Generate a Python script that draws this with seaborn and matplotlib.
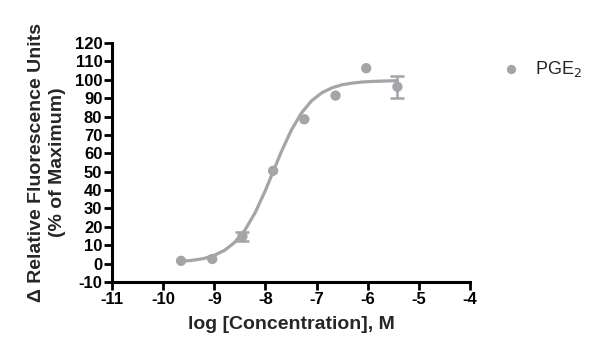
import matplotlib

matplotlib.use("Agg")

import matplotlib.pyplot as plt
import numpy as np
import pandas as pd
import seaborn as sns

# measured points (log M, % of max) with SEM
log_conc = [-9.65, -9.04, -8.45, -7.85, -7.24, -6.63, -6.03, -5.42]
response = [1.5, 2.5, 14.8, 50.5, 78.5, 91.4, 106.3, 96.2]
sem = [0.0, 0.0, 2.5, 0.0, 0.0, 0.0, 0.0, 6.0]

# fitted curve
curve_x = [-9.65, -9.4, -9.2, -9.0, -8.8, -8.6, -8.4, -8.2, -8.0, -7.85, -7.7,
           -7.5, -7.3, -7.1, -6.9, -6.7, -6.5, -6.3, -6.1, -5.9, -5.7, -5.42]
curve_y = [1.2, 1.9, 2.8, 4.5, 7.2, 11.6, 18.3, 27.8, 39.9, 50.0, 60.2,
           72.3, 81.8, 88.5, 92.9, 95.6, 97.3, 98.2, 98.8, 99.1, 99.3, 99.5]

x_ticks = [-11, -10, -9, -8, -7, -6, -5, -4]
y_ticks = list(range(-10, 121, 10))

GREY = "#a4a4a9"

sns.set_style("ticks")
plt.rcParams["font.family"] = ["Liberation Sans", "DejaVu Sans"]

fig = plt.figure(figsize=(6.0, 3.59), dpi=100)
ax = fig.add_axes([0.1867, 0.2145, 0.5967, 0.6657])

curve = pd.DataFrame({"x": curve_x, "y": curve_y})
points = pd.DataFrame({"x": log_conc, "y": response, "sem": sem})

sns.lineplot(data=curve, x="x", y="y", ax=ax, color=GREY, linewidth=2.3, zorder=2)

err = points[points["sem"] > 0]
ax.errorbar(err["x"], err["y"], yerr=err["sem"], fmt="none", ecolor=GREY,
            elinewidth=1.8, capsize=5, capthick=1.8, zorder=3)

sns.scatterplot(data=points, x="x", y="y", ax=ax, color=GREY, s=55,
                edgecolor="none", zorder=4, label="PGE$_2$")

ax.set_xlim(-11, -4)
ax.set_ylim(-10, 120)
ax.set_xticks(x_ticks)
ax.set_yticks(y_ticks)
ax.set_xticklabels([str(t) for t in x_ticks], fontweight="bold", fontsize=12)
ax.set_yticklabels([str(t) for t in y_ticks], fontweight="bold", fontsize=12)
ax.tick_params(axis="both", direction="out", length=6, width=2, pad=1, colors="black")

for side in ["top", "right"]:
    ax.spines[side].set_visible(False)
for side in ["left", "bottom"]:
    ax.spines[side].set_linewidth(2.2)
    ax.spines[side].set_color("black")

ax.set_xlabel("log [Concentration], M", fontsize=14, fontweight="bold", labelpad=7)
ax.set_ylabel("\u0394 Relative Fluorescence Units\n(% of Maximum)", fontsize=14,
              fontweight="bold", labelpad=6, linespacing=1.35)

leg = ax.legend(loc="upper left", bbox_to_anchor=(1.02, 1.0), frameon=False,
                fontsize=13, handletextpad=0.3, markerscale=0.9)

fig.savefig("out.png", dpi=100)
